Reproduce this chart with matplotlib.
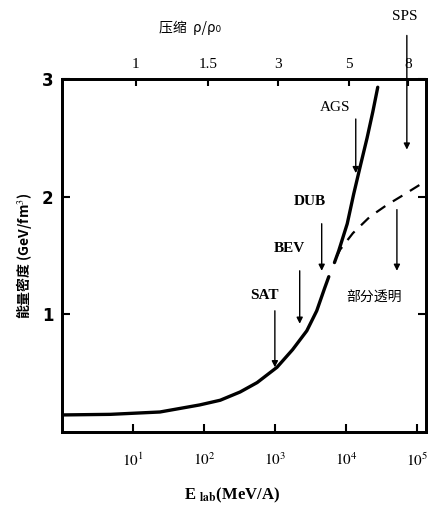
import matplotlib
matplotlib.use("Agg")
import matplotlib.pyplot as plt
import numpy as np

plt.rcParams['font.family'] = ['Liberation Serif', 'Noto Sans CJK SC', 'DejaVu Sans']
plt.rcParams['mathtext.fontset'] = 'stix'

# solid curve, lower branch: log10(E_lab) and energy density (GeV/fm^3)
low_logE = [0.0, 0.68, 1.38, 1.94, 2.23, 2.51, 2.75, 3.03, 3.25, 3.45, 3.59, 3.70, 3.76]
low_eps = [0.145, 0.15, 0.17, 0.23, 0.27, 0.34, 0.42, 0.55, 0.70, 0.86, 1.03, 1.22, 1.32]
# solid curve, upper branch
up_logE = [3.84, 3.90, 4.02, 4.11, 4.20, 4.30, 4.38, 4.45]
up_eps = [1.44, 1.54, 1.77, 2.02, 2.25, 2.50, 2.72, 2.93]
# dashed curve (partial transparency)
dash_logE = [3.87, 3.92, 4.10, 4.34, 4.58, 4.80, 5.04, 5.13]
dash_eps = [1.49, 1.55, 1.69, 1.83, 1.93, 2.01, 2.10, 2.14]

# bottom axis
xticks_E = [1e1, 1e2, 1e3, 1e4, 1e5]
xtick_labels = [r'$10^1$', r'$10^2$', r'$10^3$', r'$10^4$', r'$10^5$']
yticks = [1, 2, 3]
ytick_labels = ['1', '2', '3']
# top axis: compression rho/rho0
comp_logE = [1.04, 2.06, 3.05, 4.05, 4.88]
comp_labels = ['1', '1.5', '3', '5', '8']

# annotations: label, text (logE, eps), arrow start (logE, eps), arrow tip (logE, eps)
ann_labels = ['SAT', 'BEV', 'DUB', 'AGS', 'SPS', '部分透明']
ann_text = [(2.86, 1.16), (3.21, 1.56), (3.49, 1.96), (3.85, 2.76), (4.83, 3.53), (4.40, 1.14)]
ann_start = [(3.0, 1.03), (3.35, 1.37), (3.66, 1.77), (4.14, 2.66), (4.86, 3.37), (4.72, 1.89)]
ann_tip = [(3.0, 0.55), (3.35, 0.92), (3.66, 1.37), (4.14, 2.20), (4.86, 2.40), (4.72, 1.37)]

fig = plt.figure(figsize=(4.29, 5.13), dpi=100)
ax = fig.add_axes([62/429, 81/513, 364/429, 353/513])
ax.set_xscale('log')
ax.set_xlim(1, 10**5.13)
ax.set_ylim(0, 3)

for xs, ys in ((low_logE, low_eps), (up_logE, up_eps)):
    ax.plot(10**np.array(xs), ys, color='black', lw=2.4, solid_capstyle='round',
            solid_joinstyle='round')
ax.plot(10**np.array(dash_logE), dash_eps, color='black', lw=1.6, ls=(0, (5, 4)))

for lab, t, s, p in zip(ann_labels, ann_text, ann_start, ann_tip):
    fam = ['Noto Sans CJK SC'] if lab == '部分透明' else ['Liberation Serif']
    ax.text(10**t[0], t[1], lab, ha='center', va='center', fontsize=11 if lab != '部分透明' else 10,
            family=fam, fontweight='bold' if lab in ('SAT', 'BEV', 'DUB') else 'normal', clip_on=False)
    ax.annotate('', xy=(10**p[0], p[1]), xytext=(10**s[0], s[1]),
                arrowprops=dict(arrowstyle='-|>', color='black', lw=1.0, mutation_scale=9,
                                shrinkA=0, shrinkB=0), annotation_clip=False)

for sp in ax.spines.values():
    sp.set_linewidth(2)

ax.set_xticks(xticks_E)
ax.set_xticklabels(xtick_labels, fontsize=11)
ax.xaxis.set_minor_locator(matplotlib.ticker.NullLocator())
ax.set_yticks(yticks)
ax.set_yticklabels(ytick_labels, fontsize=12, family=['DejaVu Sans'], fontweight='bold')
ax.tick_params(axis='both', direction='in', length=6, width=1.5, right=True, labelright=False)
ax.tick_params(axis='x', pad=14)
ax.tick_params(axis='y', pad=6)

top = ax.twiny()
top.set_xscale('log')
top.set_xlim(ax.get_xlim())
top.set_xticks([10**v for v in comp_logE])
top.set_xticklabels(comp_labels, fontsize=11)
top.xaxis.set_minor_locator(matplotlib.ticker.NullLocator())
top.tick_params(axis='x', direction='in', length=5, width=1.5, pad=6)
for sp in top.spines.values():
    sp.set_linewidth(2)

fig.text(190/429, 1 - 28/513, '压缩  ρ/ρ₀', ha='center', va='center', fontsize=10,
         family=['Noto Sans CJK SC', 'DejaVu Sans'])
ax.set_ylabel('能量密度 (GeV/fm$^3$)', fontsize=10, fontweight='bold',
              family=['Noto Sans CJK SC', 'DejaVu Sans'], labelpad=6)
fig.text(232/429, 1 - 495/513, r'E $_{\mathbf{lab}}$(MeV/A)', ha='center', va='center',
         fontsize=12, fontweight='bold')

fig.savefig('out.png', dpi=100)
